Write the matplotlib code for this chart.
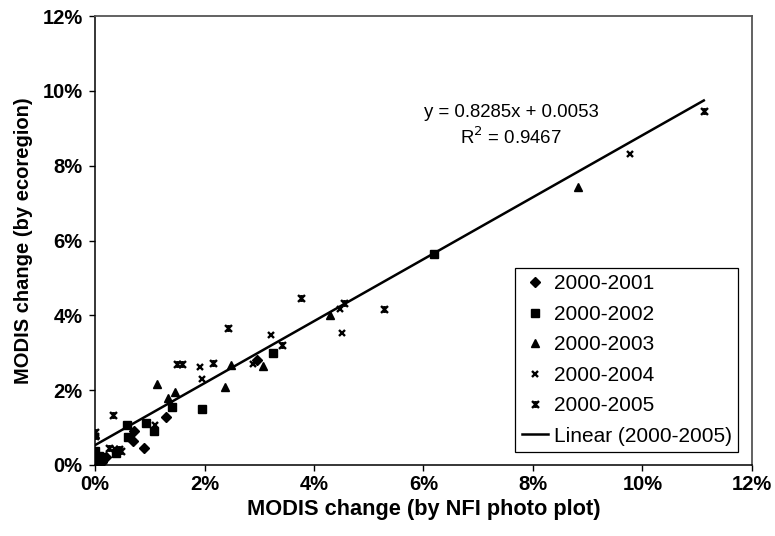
"""
MODIS change by NFI photo plot vs MODIS change by ecoregion, 2000-2001 ... 2000-2005,
with the linear fit of the 2000-2005 series.
"""
import numpy as np
import matplotlib
matplotlib.use("Agg")
import matplotlib.pyplot as plt
from matplotlib.path import Path
from matplotlib.ticker import PercentFormatter, MultipleLocator

plt.rcParams["font.family"] = ["Liberation Sans", "DejaVu Sans"]

# valeurs en %
x_0001 = [0.00, 0.05, 0.10, 0.20, 0.12, 0.70, 0.72, 0.90, 1.30, 2.96]
y_0001 = [0.00, 0.05, 0.15, 0.22, 0.08, 0.64, 0.92, 0.46, 1.27, 2.81]

x_0002 = [0.00, 0.05, 0.15, 0.08, 0.38, 0.61, 0.58, 0.94, 1.08, 1.41, 1.96, 3.25, 6.20]
y_0002 = [0.37, 0.12, 0.20, 0.25, 0.31, 0.74, 1.07, 1.13, 0.91, 1.54, 1.49, 3.00, 5.63]

x_0003 = [0.00, 1.14, 1.34, 1.46, 2.37, 2.48, 3.07, 4.29, 8.83]
y_0003 = [0.82, 2.16, 1.78, 1.94, 2.09, 2.67, 2.65, 4.02, 7.43]

x_0004 = [0.37, 1.10, 1.91, 1.96, 2.88, 3.21, 4.47, 4.51, 9.78]
y_0004 = [0.42, 1.07, 2.63, 2.30, 2.69, 3.47, 4.18, 3.52, 8.31]

x_0005 = [0.00, 0.00, 0.33, 0.26, 0.44, 0.47, 1.49, 1.58, 2.16, 2.42, 3.42, 3.77, 4.55, 5.28, 11.12]
y_0005 = [0.89, 0.78, 1.33, 0.46, 0.44, 0.38, 2.69, 2.69, 2.72, 3.65, 3.22, 4.47, 4.34, 4.16, 9.47]

SLOPE, INTERCEPT, R2 = 0.8285, 0.0053, 0.9467

# marqueur "étoile" d'Excel : croix + trait vertical
STAR = Path([(-1, -1), (1, 1), (-1, 1), (1, -1), (0, -1), (0, 1)],
            [Path.MOVETO, Path.LINETO, Path.MOVETO, Path.LINETO, Path.MOVETO, Path.LINETO])

fig = plt.figure(figsize=(7.75, 5.36), dpi=100)
ax = fig.add_axes([0.1226, 0.1325, 0.8477, 0.8376])

ax.plot(x_0001, y_0001, ls="none", marker="D", ms=4.8, color="black", label="2000-2001", zorder=3)
ax.plot(x_0002, y_0002, ls="none", marker="s", ms=5.4, color="black", label="2000-2002", zorder=3)
ax.plot(x_0003, y_0003, ls="none", marker="^", ms=6.4, color="black", label="2000-2003", zorder=3)
ax.plot(x_0004, y_0004, ls="none", marker="x", ms=5.0, mew=1.7, color="black", label="2000-2004", zorder=3)
ax.plot(x_0005, y_0005, ls="none", marker=STAR, ms=5.0, mew=1.7, color="black",
        fillstyle="none", label="2000-2005", zorder=3)

# droite de régression (2000-2005)
x_fit = np.array([0.0, max(x_0005)])
y_fit = SLOPE * x_fit + INTERCEPT * 100
ax.plot(x_fit, y_fit, color="black", lw=1.8, label="Linear (2000-2005)", zorder=2)

ax.text(7.6, 9.41, f"y = {SLOPE}x + {INTERCEPT}", fontsize=13.4, ha="center", va="center")
ax.text(7.6, 8.77, f"R$^2$ = {R2}", fontsize=13.4, ha="center", va="center")

ax.set_xlim(0, 12)
ax.set_ylim(0, 12)
ax.xaxis.set_major_locator(MultipleLocator(2))
ax.yaxis.set_major_locator(MultipleLocator(2))
ax.xaxis.set_major_formatter(PercentFormatter(100, decimals=0))
ax.yaxis.set_major_formatter(PercentFormatter(100, decimals=0))
ax.tick_params(direction="out", length=4, width=1, labelsize=14.5)
ax.tick_params(axis="x", pad=3)
ax.tick_params(axis="y", pad=5)
for lab in ax.get_xticklabels() + ax.get_yticklabels():
    lab.set_fontweight("bold")

for s in ("left", "bottom"):
    ax.spines[s].set_color("black")
    ax.spines[s].set_linewidth(1.1)
for s in ("top", "right"):
    ax.spines[s].set_color("#555555")
    ax.spines[s].set_linewidth(1.3)

ax.set_xlabel("MODIS change (by NFI photo plot)", fontsize=15.7, fontweight="bold", labelpad=4)
ax.set_ylabel("MODIS change (by ecoregion)", fontsize=14.5, fontweight="bold", labelpad=7)

leg = ax.legend(loc="lower right", bbox_to_anchor=(0.979, 0.029), borderaxespad=0,
                fontsize=15, fancybox=False, framealpha=1, edgecolor="black",
                handlelength=1.25, handletextpad=0.3, labelspacing=0.55, borderpad=0.3)
leg.get_frame().set_linewidth(0.9)

plt.savefig("out.png", dpi=100)
